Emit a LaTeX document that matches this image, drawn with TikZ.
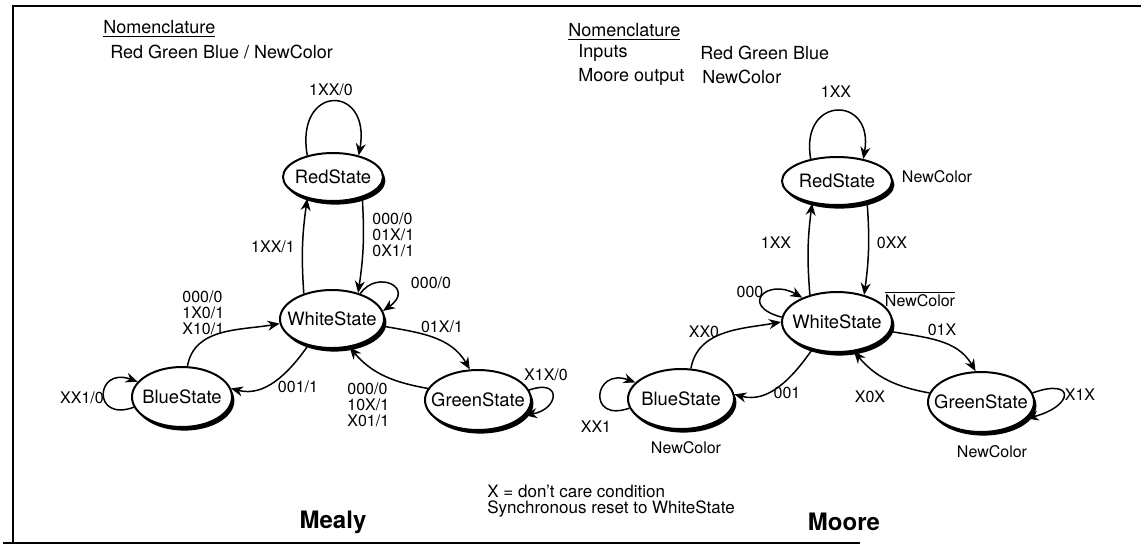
\documentclass[tikz,border=0pt]{standalone}
\usepackage{fontspec}
\setmainfont{TeX Gyre Heros}
\usetikzlibrary{shapes.geometric, arrows.meta, shadows}

\begin{document}
\begin{tikzpicture}[
  x=0.5pt, y=0.5pt,
  state/.style={
    ellipse, draw, line width=1pt, fill=white,
    inner xsep=-8pt, inner ysep=0pt,
    minimum width=53pt, minimum height=30pt,
    font=\fontsize{9.2}{11}\selectfont,
    general shadow={fill=black, shadow xshift=1.2pt, shadow yshift=-1.8pt}
  },
  lbl/.style={font=\fontsize{8}{8}\selectfont, inner sep=0pt, align=left},
  outlbl/.style={font=\fontsize{8}{9}\selectfont, inner sep=0pt},
  note/.style={font=\fontsize{9}{11}\selectfont, inner sep=0pt, anchor=west},
  title/.style={font=\fontsize{12}{14}\selectfont\bfseries, inner sep=0pt},
  arr/.style={-{Stealth[length=6pt, width=5pt]}, line width=0.75pt}
]
\useasboundingbox (0,0) rectangle (1141,-548);

%% Frame
\draw[line width=1.2pt] (1141,-6) -- (13,-6) -- (13,-543);
\draw[line width=1.2pt] (3,-543) -- (860,-543);

%% Mealy: nomenclature
\node[note] (nom1) at (103,-29) {\underline{Nomenclature}};
\node[note] (key1) at (110,-52) {Red Green Blue / NewColor};

%% Mealy: states
\node[state, minimum width=50pt, minimum height=24pt] (red1)   at (333,-177) {RedState};
\node[state, minimum width=52pt, minimum height=29pt] (white1) at (332,-319) {WhiteState};
\node[state, minimum width=50pt]                      (blue1)  at (182,-397) {BlueState};
\node[state]                                          (green1) at (478,-400) {GreenState};

%% Mealy: transitions
\draw[arr] (red1.140) .. controls +(100:73) and +(80:73) .. (red1.40);
\draw[arr] (white1.138) to[bend left=6] (red1.220);
\draw[arr] (red1.-35) to[bend left=6] (white1.45);
\draw[arr] (white1.42) .. controls +(55:30) and +(35:40) .. (white1.9);
\draw[arr] (blue1.80) to[out=80, in=190] (white1.185);
\draw[arr] (white1.228) to[out=235, in=-15] (blue1.10);
\draw[arr] (white1.-8) to[out=-10, in=120] (green1.105);
\draw[arr] (green1.167) to[out=170, in=-50] (white1.-58);
\draw[arr] (blue1.192) .. controls +(200:45) and +(160:45) .. (blue1.161);
\draw[arr] (green1.11) .. controls +(20:35) and +(10:35) .. (green1.-18);

%% Mealy: labels
\node[lbl] (rr1) at (331,-90) {1XX/0};
\node[lbl] (wr1) at (273,-247) {1XX/1};
\node[lbl, anchor=west] (rw1) at (372,-235) {000/0\\01X/1\\0X1/1};
\node[lbl] (ww1) at (431,-283) {000/0};
\node[lbl, anchor=west] (bw1) at (182,-313) {000/0\\1X0/1\\X10/1};
\node[lbl] (wg1) at (442,-327) {01X/1};
\node[lbl] (bb1) at (82,-398) {XX1/0};
\node[lbl] (wb1) at (298,-387) {001/1};
\node[lbl, anchor=west] (gw1) at (347,-405) {000/0\\10X/1\\X01/1};
\node[lbl] (gg1) at (546,-375) {X1X/0};
\node[title] (mealy) at (333,-522) {Mealy};

%% Moore: nomenclature
\node[note] (nom2)  at (568,-32) {\underline{Nomenclature}};
\node[note] (in2)   at (578,-53) {Inputs};
\node[note] (inv2)  at (700,-53) {Red Green Blue};
\node[note] (out2)  at (578,-77) {Moore output};
\node[note] (outv2) at (702,-77) {NewColor};

%% Moore: states
\node[state, minimum width=55pt, minimum height=24pt] (red2)   at (837,-181) {RedState};
\node[state, minimum width=55pt]                      (white2) at (837,-322) {WhiteState};
\node[state]                                          (blue2)  at (681,-399) {BlueState};
\node[state]                                          (green2) at (981,-402) {GreenState};

%% Moore: transitions
\draw[arr] (red2.140) .. controls +(100:65) and +(80:65) .. (red2.40);
\draw[arr] (white2.135) to[bend left=6] (red2.222);
\draw[arr] (red2.-35) to[bend left=6] (white2.45);
\draw[arr] (white2.175) .. controls +(165:45) and +(150:40) .. (white2.145);
\draw[arr] (blue2.72) to[out=80, in=190] (white2.180);
\draw[arr] (white2.228) to[out=235, in=-15] (blue2.5);
\draw[arr] (white2.-10) to[out=-10, in=120] (green2.100);
\draw[arr] (green2.170) to[out=170, in=-50] (white2.-60);
\draw[arr] (blue2.190) .. controls +(200:45) and +(160:45) .. (blue2.160);
\draw[arr] (green2.10) .. controls +(20:45) and +(15:50) .. (green2.-20);

%% Moore: labels and outputs
\node[lbl] (rr2) at (836,-92) {1XX};
\node[lbl] (wr2) at (776,-243) {1XX};
\node[lbl] (rw2) at (892,-243) {0XX};
\node[lbl] (ww2) at (750,-292) {000};
\node[lbl] (bw2) at (704,-332) {XX0};
\node[lbl] (wg2) at (942,-330) {01X};
\node[lbl] (wb2) at (787,-393) {001};
\node[lbl] (gw2) at (870,-397) {X0X};
\node[lbl] (bb2) at (596,-427) {XX1};
\node[lbl] (gg2) at (1080,-395) {X1X};
\node[outlbl] (ored)   at (937,-177) {NewColor};
\node[outlbl] (owhite) at (920,-299) {$\overline{\hbox{NewColor}}$};
\node[outlbl] (oblue)  at (686,-448) {NewColor};
\node[outlbl] (ogreen) at (992,-452) {NewColor};
\node[title] (moore) at (844,-522) {Moore};

%% Notes
\node[note, font=\fontsize{8.5}{10}\selectfont] (xnote) at (487,-491) {X = don't care condition};
\node[note, font=\fontsize{8.5}{10}\selectfont] (rnote) at (487,-509) {Synchronous reset to WhiteState};

\end{tikzpicture}
\end{document}
